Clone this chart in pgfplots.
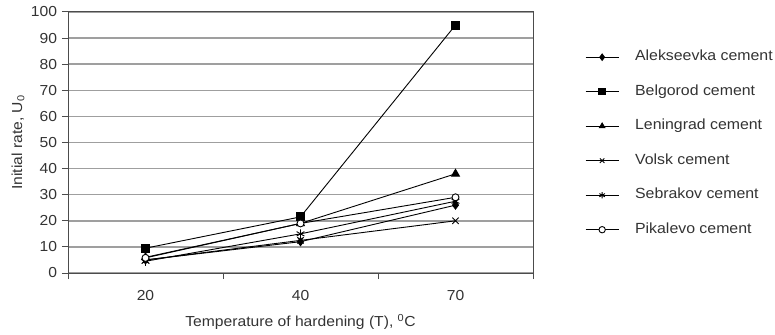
\documentclass[border=0pt]{standalone}
\usepackage{fontspec}
\setmainfont{Liberation Sans}[FakeStretch=1.08]
\usepackage{pgfplots}
\pgfplotsset{compat=1.18}
\begin{document}
\fontsize{14.5bp}{16bp}\selectfont
\begin{tikzpicture}[x=1bp,y=1bp]
\path[use as bounding box] (0,0) rectangle (775,334);
\begin{axis}[at={(68bp,61bp)}, anchor=south west, scale only axis,
  width=465bp, height=261bp,
  xmin=-0.5, xmax=2.5, ymin=0, ymax=100,
  /pgf/number format/assume math mode=true,
  tick label style={font=\fontsize{14.5bp}{16bp}\selectfont, text=black!80},
  label style={font=\fontsize{14.5bp}{16bp}\selectfont, text=black!80},
  xtick={0,1,2}, xticklabels={20,40,70},
  major x tick style={draw=none},
  extra x ticks={-0.5,0.5,1.5,2.5}, extra x tick labels={},
  extra x tick style={major x tick style={draw=gray!60!black, line width=1bp}, xmajorgrids=false},
  ytick={0,10,...,100},
  tick align=outside, major tick length=6bp,
  xtick pos=bottom, ytick pos=left,
  ymajorgrids, grid style={draw=gray!75, line width=1.4bp},
  axis line style={draw=gray!60!black, line width=1bp},
  ytick style={draw=gray!60!black, line width=1bp},
  xticklabel style={yshift=-6bp},
  xlabel={Temperature of hardening (T), \textsuperscript{0}C},
  ylabel={Initial rate, U\textsubscript{0}},
  xlabel style={at={(axis description cs:0.5,-0.1877)}, anchor=center},
  ylabel style={at={(axis description cs:-0.1075,0.5)}, anchor=center},
  every axis plot/.append style={black, line width=0.9bp},
  legend style={at={(axis description cs:1.1118,0.8525)}, anchor=north west,
    draw=none, fill=none, inner sep=0pt, row sep=21.5bp,
    font=\fontsize{14.7bp}{17bp}\selectfont, text=black!80,
    nodes={inner sep=0pt, text height=10bp, text depth=3bp},
    /tikz/every odd column/.append style={column sep=16bp}},
  legend cell align=left,
  legend image code/.code={\draw[mark repeat=2,mark phase=2,#1,mark size=3.2bp] plot coordinates {(0bp,0bp) (16.5bp,0bp) (33bp,0bp)};},
]
\addplot[mark=diamond*, mark size=4bp, mark options={fill=black}] coordinates {(0,5) (1,12) (2,26)};
\addlegendentry{Alekseevka cement}
\addplot[mark=square*, mark size=4bp, mark options={fill=black}] coordinates {(0,9.5) (1,21.5) (2,95)};
\addlegendentry{Belgorod cement}
\addplot[mark=triangle*, mark size=4.5bp, mark options={fill=black}] coordinates {(0,6) (1,19) (2,38)};
\addlegendentry{Leningrad cement}
\addplot[mark=x, mark size=4.5bp] coordinates {(0,5) (1,12.5) (2,20)};
\addlegendentry{Volsk cement}
\addplot[mark=asterisk, mark size=4.5bp] coordinates {(0,4.5) (1,15) (2,27.5)};
\addlegendentry{Sebrakov cement}
\addplot[mark=*, mark size=3.5bp, mark options={fill=white}] coordinates {(0,5.8) (1,19) (2,29)};
\addlegendentry{Pikalevo cement}
\end{axis}
\end{tikzpicture}
\end{document}
